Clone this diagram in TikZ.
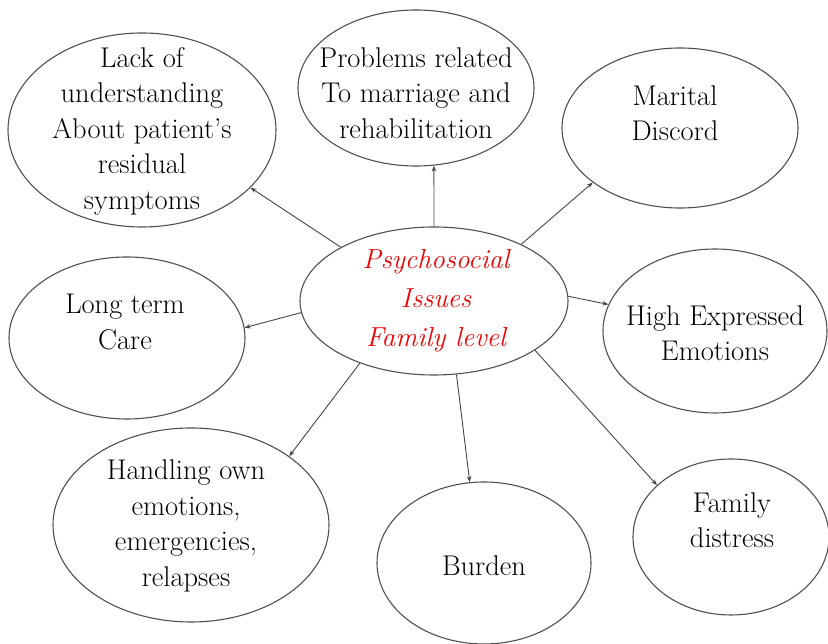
\documentclass[tikz,border=0pt]{standalone}
\usepackage{fontspec}
\usetikzlibrary{shapes.geometric,arrows.meta}
\definecolor{rimgray}{RGB}{80,80,80}
\definecolor{linkgray}{RGB}{70,70,70}
\definecolor{hubred}{RGB}{240,0,0}
\tikzset{
  bubble/.style={ellipse, draw=rimgray, line width=1.1pt, inner sep=0pt, fill=white},
  caption/.style={align=center, inner sep=0pt, font=\rmfamily\fontsize{28.5}{35.5}\selectfont},
  hubtext/.style={align=center, inner sep=0pt, text=hubred,
                  font=\rmfamily\itshape\fontsize{27.5}{39}\selectfont},
  link/.style={draw=linkgray, line width=0.9pt, -{Stealth[length=6pt,width=4.5pt]}}
}
\begin{document}
\begin{tikzpicture}[x=1pt,y=1pt]
\useasboundingbox (0,0) rectangle (828,644);

% outer bubbles
\node[bubble, minimum width=268, minimum height=194] (lack) at (142,514) {};
\node[bubble, minimum width=236, minimum height=156] (prob) at (416,556) {};
\node[bubble, minimum width=236, minimum height=160] (mar)  at (680,516) {};
\node[bubble, minimum width=224, minimum height=164] (high) at (715,313) {};
\node[bubble, minimum width=236, minimum height=162] (long) at (127,306) {};
\node[bubble, minimum width=276, minimum height=194] (hand) at (191,119) {};
\node[bubble, minimum width=214, minimum height=162] (burd) at (484,81)  {};
\node[bubble, minimum width=196, minimum height=156] (fam)  at (731,107) {};
% central bubble
\node[bubble, minimum width=268, minimum height=148] (hub) at (434,343) {};

% labels
\node[caption] (lackT) at (142,513) {Lack of\\understanding\\About patient’s\\residual\\symptoms};
\node[caption] (probT) at (416,551) {Problems related\\To marriage and\\rehabilitation};
\node[caption] (marT)  at (675,531) {Marital\\Discord};
\node[caption] (highT) at (715,311) {High Expressed\\Emotions};
\node[caption] (longT) at (125,322) {Long term\\Care};
\node[caption] (handT) at (186,118) {Handling own\\emotions,\\emergencies,\\relapses};
\node[caption] (burdT) at (484,78)  {Burden};
\node[caption] (famT)  at (732,124) {Family\\distress};
\node[hubtext] (hubT)  at (436,343) {Psychosocial\\Issues\\Family level};

% connectors from the hub
\draw[link] (hub.150)   -- (lack.332);
\draw[link] (hub.90)    -- (prob.283);
\draw[link] (hub.33)    -- (mar.212);
\draw[link] (hub.2)     -- (high.166);
\draw[link] (hub.185)   -- (long.5);
\draw[link] (hub.220)   -- (hand.35);
\draw[link] (hub.287)   -- (burd.100);
\draw[link] (hub.334)   -- (fam.145);
\end{tikzpicture}
\end{document}
